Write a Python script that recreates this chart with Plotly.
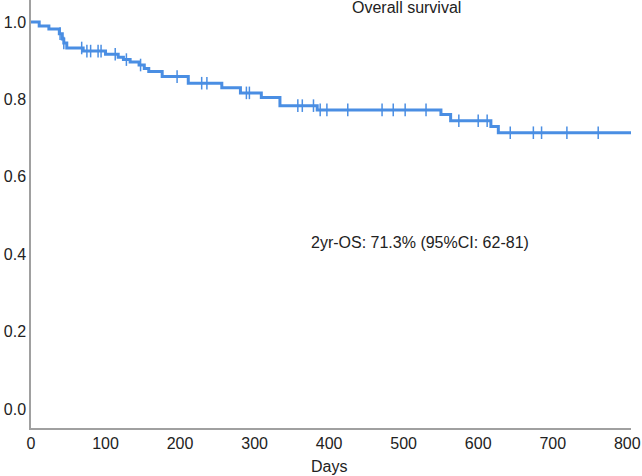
import plotly.graph_objects as go

# Kaplan-Meier step data
event_days = [0, 11, 24, 38, 42, 44, 48, 70, 100, 117, 124, 133, 145, 152, 158, 176, 211, 256, 281, 309, 334, 384, 550, 563, 617, 627, 806]
survival   = [1.000, 0.990, 0.982, 0.970, 0.956, 0.946, 0.933, 0.925, 0.917, 0.909, 0.903, 0.897, 0.889, 0.880, 0.872, 0.859, 0.842, 0.830, 0.817, 0.805, 0.784, 0.773, 0.761, 0.745, 0.730, 0.714, 0.714]

censor_days = [39, 44, 68, 75, 80, 90, 94, 113, 128, 147, 196, 229, 236, 289, 293, 358, 364, 379, 388, 397, 425, 471, 486, 502, 530, 574, 600, 612, 643, 674, 685, 719, 761]

x_ticks = [0, 100, 200, 300, 400, 500, 600, 700, 800]
y_ticks = [0.0, 0.2, 0.4, 0.6, 0.8, 1.0]

def surv_at(t):
    v = survival[0]
    for d, s in zip(event_days, survival):
        if d <= t:
            v = s
    return v

censor_vals = [surv_at(t) for t in censor_days]

color = "#4A8EE3"
fig = go.Figure()
fig.add_trace(go.Scatter(x=event_days, y=survival, mode="lines",
                         line=dict(color=color, width=3, shape="hv"),
                         hoverinfo="skip", showlegend=False))
fig.add_trace(go.Scatter(x=censor_days, y=censor_vals, mode="markers",
                         marker=dict(symbol="line-ns-open", size=9, color=color,
                                     line=dict(color=color, width=1.5)),
                         showlegend=False))

font = dict(family="Liberation Sans, Arial, sans-serif", size=16, color="#222")
fig.update_layout(
    width=642, height=476,
    margin=dict(l=31, r=11, t=0, b=48),
    paper_bgcolor="white", plot_bgcolor="white",
    font=font,
    xaxis=dict(range=[0, 805], tickvals=x_ticks, ticktext=[str(v) for v in x_ticks],
               showgrid=False, zeroline=False, showline=True, linecolor="#a0a0a0",
               linewidth=1.5, ticks="", automargin=False,
               tickfont=dict(size=16)),
    yaxis=dict(range=[-0.049, 1.057], tickvals=y_ticks,
               ticktext=[f"{v:.1f}" for v in y_ticks],
               showgrid=False, zeroline=False, showline=True, linecolor="#a0a0a0",
               linewidth=1.5, ticks="", automargin=False, tickfont=dict(size=16)),
    annotations=[
        dict(text="Overall survival", x=504, y=1.057, xref="x", yref="y",
             yanchor="top", xanchor="center", showarrow=False, yshift=3,
             font=dict(size=16)),
        dict(text="2yr-OS: 71.3% (95%CI: 62-81)", x=522, y=0.43, xref="x", yref="y",
             xanchor="center", yanchor="middle", showarrow=False,
             font=dict(size=16)),
        dict(text="Days", x=400, y=0, xref="x", yref="paper",
             xanchor="center", yanchor="middle", showarrow=False, yshift=-38,
             font=dict(size=16)),
    ],
)
fig.write_html("out.html", config={"displayModeBar": False},
               post_script="document.body.style.margin='0';document.body.style.overflow='hidden';")
